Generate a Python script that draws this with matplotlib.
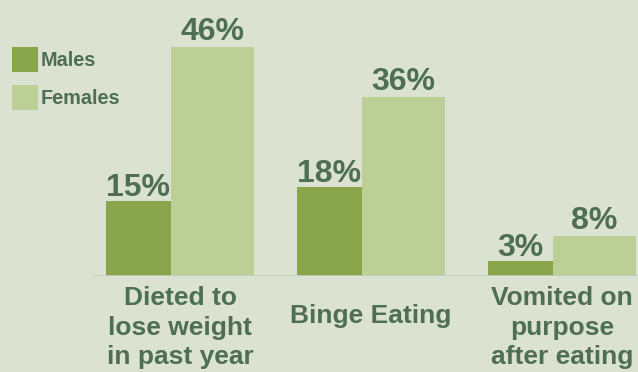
import numpy as np
import matplotlib.pyplot as plt

# donnees
categories = ['Dieted to\nlose weight\nin past year', 'Binge Eating', 'Vomited on\npurpose\nafter eating']
males = [15, 18, 3]
females = [46, 36, 8]
series_names = ['Males', 'Females']

bg = '#dbe2d2'
c_males = '#8aa64d'
c_females = '#bccf97'
c_text = '#4e6e55'

plt.rcParams['font.family'] = ['Liberation Sans', 'DejaVu Sans']
plt.rcParams['font.weight'] = 'bold'

W, H = 638, 372
fig = plt.figure(figsize=(W / 100, H / 100), dpi=100, facecolor=bg)
# axe: ligne de base a 276 px du haut, 4.97 px par %
ax = fig.add_axes([0, 96 / H, 1, 276 / H])
ax.set_facecolor(bg)

pitch = 191.0
x = np.arange(len(categories))
wm = 65 / pitch
wf = 83 / pitch
ax.set_xlim(-106 / pitch, (W - 106) / pitch)
ax.set_ylim(0, 276 / 4.97)

bm = ax.bar(x, males, width=wm, align='edge', color=c_males, label=series_names[0])
bf = ax.bar(x + wm, females, width=wf, align='edge', color=c_females, label=series_names[1])

for rects, vals, off in [(bm, males, 5), (bf, females, 7)]:
    for r, v in zip(rects, vals):
        ax.annotate(f'{v}%', (r.get_x() + r.get_width() / 2, v), xytext=(0, off),
                    textcoords='offset pixels', ha='center', va='baseline',
                    fontsize=23, fontweight='bold', color=c_text)

# ligne de base
ax.axhline(0, xmin=94 / W, xmax=1, color='#c5ccbd', lw=1.2)

# etiquettes des categories
for i, cat in enumerate(categories):
    cx = x[i] + (wm + wf) / 2
    ytop = -2.0 if '\n' in cat else -5.6
    ax.text(cx, ytop, cat, ha='center', va='top', fontsize=19, fontweight='bold',
            color=c_text, linespacing=1.3, clip_on=False)

ax.axis('off')

leg = fig.legend(handles=[bm, bf], loc='upper left', bbox_to_anchor=(12 / W, 1 - 47 / H),
                 frameon=False, fontsize=14.3, handlelength=1.3, handleheight=1.55,
                 handletextpad=0.12, labelspacing=0.65, borderpad=0, borderaxespad=0)
for t in leg.get_texts():
    t.set_color(c_text)
    t.set_fontweight('bold')

plt.savefig('out.png', dpi=100, facecolor=bg)
